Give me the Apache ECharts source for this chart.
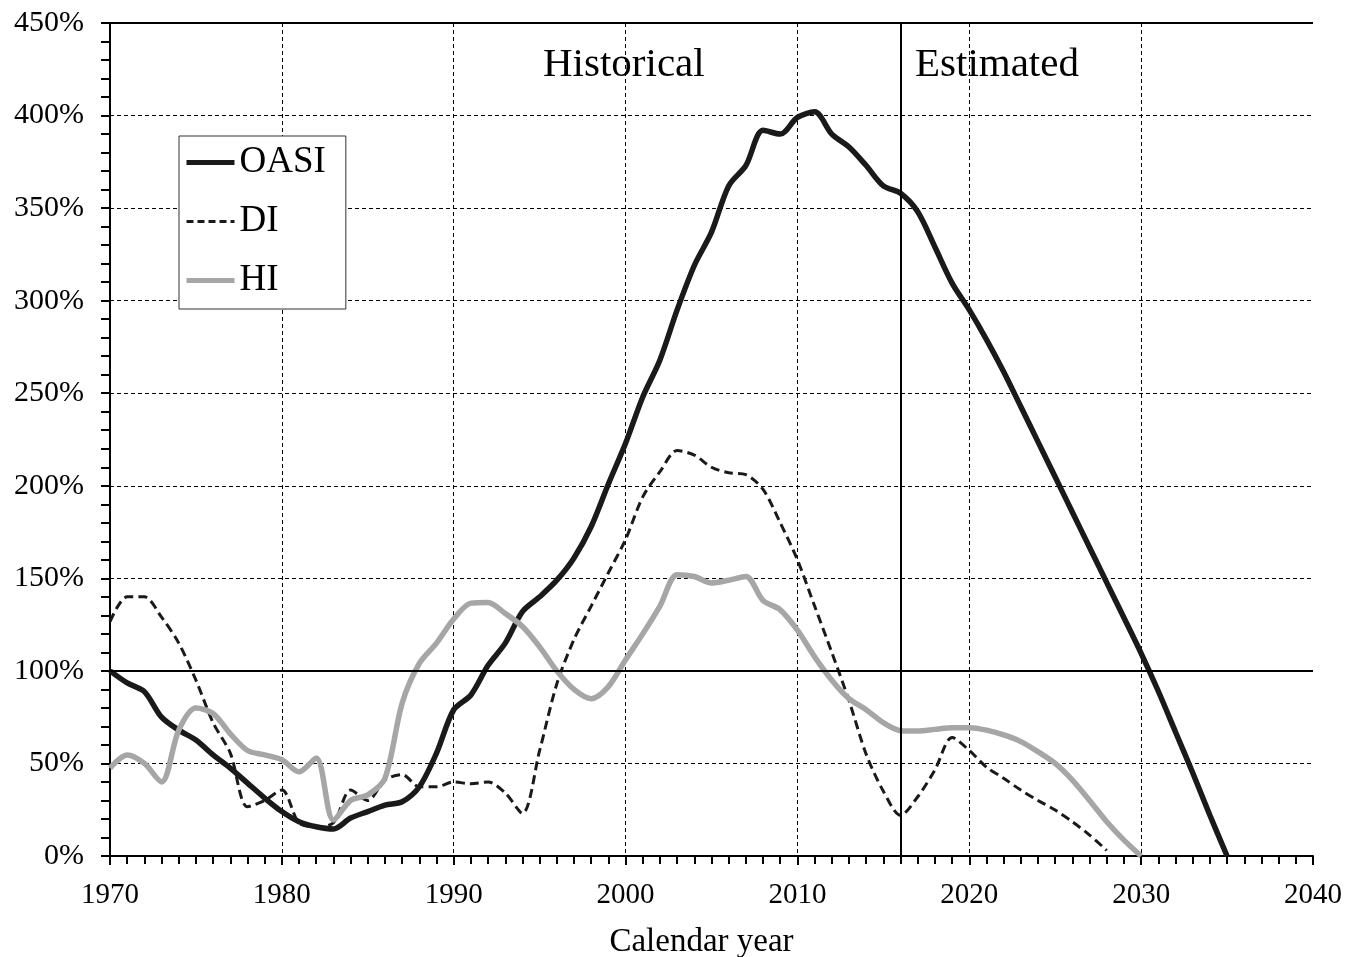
<!DOCTYPE html>
<html>
<head>
<meta charset="utf-8">
<script src="https://cdn.jsdelivr.net/npm/echarts@6/dist/echarts.min.js"></script>
<style>
html, body { margin: 0; padding: 0; background: #fff; }
#chart { width: 1361px; height: 957px; }
</style>
</head>
<body>
<div id="chart"></div>
<script>
// years 1970..2035
var years = [];
for (var y = 1970; y <= 2035; y++) years.push(y);

// trust fund ratios (%)
var oasi = [100, 93.5, 88.8, 75, 68, 62.7, 54.6, 47.5, 39.4, 31.3,
    24, 18.5, 15.8, 14.6, 20.5, 24, 27.5, 29.3, 37.4, 55.6,
    79, 87, 103, 115, 132, 140, 149, 161, 178, 201,
    223, 248, 268, 295, 319, 337, 362, 373, 392, 390,
    399, 402, 390, 383, 373, 362, 358, 348, 329, 309.5,
    295, 279, 261.6, 242.7, 223.7, 204.7, 185.7, 166.7, 147.7, 128.7,
    109.5, 89, 67, 45, 22, 0];
var di = [126.6, 140, 140, 129, 115, 95, 72, 55.6, 26.6, 30,
    35.6, 17.8, 15.8, 18, 35.6, 30, 41, 44, 37.4, 37.4,
    40, 39, 40, 34, 23, 57, 93, 117, 135, 153,
    171, 194, 207.6, 219, 216.6, 210, 207, 206, 198, 180,
    160, 135, 110, 84, 55, 35, 22, 32, 46.5, 64,
    57, 48, 42, 35.6, 30, 24.8, 18.5, 11.3, 3];
var hi = [47.5, 54.6, 50, 40, 68, 80, 77, 66, 57, 54.6,
    52, 45.5, 53, 19.4, 30, 33, 42, 82.6, 104, 115,
    128, 136.6, 137, 131, 124, 113, 100, 90, 85, 91.5,
    106, 120, 135, 152, 151, 147.5, 149, 151, 138, 133,
    122, 107.6, 95, 85, 79, 72, 67.7, 67.5, 68.4, 69.3,
    69.3, 68, 65.4, 61.8, 56.3, 50, 41, 30, 18.5, 8.6, 0];

// reference lines
var refY = [100, 450];
var refX = [2016];

function pairs(vals) {
    var out = [];
    for (var i = 0; i < vals.length; i++) out.push([years[i], vals[i]]);
    return out;
}

var font = 'Liberation Serif';
var chart = echarts.init(document.getElementById('chart'));

var refLines = [];
refY.forEach(function (v) { refLines.push({ yAxis: v }); });
refX.forEach(function (v) { refLines.push({ xAxis: v }); });

option = {
    animation: false,
    backgroundColor: '#fff',
    grid: { left: 110, right: 48, top: 23, bottom: 101, outerBoundsMode: 'none' },
    legend: {
        orient: 'vertical',
        left: 179,
        top: 136,
        padding: [8, 20, 10, 5],
        itemGap: 22,
        itemWidth: 48,
        itemHeight: 14,
        itemTextGap: 4,
        borderColor: '#333',
        borderWidth: 1,
        backgroundColor: '#fff',
        itemStyle: { opacity: 0 },
        textStyle: { fontFamily: font, fontSize: 37, color: '#000' },
        data: [
            { name: 'OASI', lineStyle: { width: 5, color: '#1a1a1a' } },
            { name: 'DI', lineStyle: { width: 3, color: '#1a1a1a', type: [7, 4] } },
            { name: 'HI', lineStyle: { width: 5, color: '#a6a6a6' } }
        ]
    },
    xAxis: {
        type: 'value',
        min: 1970,
        max: 2040,
        interval: 10,
        name: 'Calendar year',
        nameLocation: 'middle',
        nameGap: 70,
        nameTextStyle: { fontFamily: font, fontSize: 33, color: '#000', padding: [0, 20, 0, 0] },
        axisLine: { lineStyle: { color: '#000', width: 2 } },
        axisTick: { length: 9, lineStyle: { color: '#000', width: 2 } },
        minorTick: { show: true, splitNumber: 10, length: 8, lineStyle: { color: '#000', width: 2 } },
        axisLabel: { fontFamily: font, fontSize: 29, color: '#000', margin: 25, formatter: function (v) { return String(v); } },
        splitLine: { show: true, showMaxLine: false, lineStyle: { color: '#000', width: 1, type: [4, 3] } }
    },
    yAxis: {
        type: 'value',
        min: 0,
        max: 450,
        interval: 50,
        axisLine: { show: true, lineStyle: { color: '#000', width: 2 } },
        axisTick: { show: true, length: 9, lineStyle: { color: '#000', width: 2 } },
        minorTick: { show: true, splitNumber: 5, length: 9, lineStyle: { color: '#000', width: 2 } },
        axisLabel: { fontFamily: font, fontSize: 30, color: '#000', margin: 26, formatter: '{value}%' },
        splitLine: { show: true, lineStyle: { color: '#000', width: 1, type: [4, 3] } }
    },
    graphic: [
        { type: 'text', left: 543, top: 45, style: { text: 'Historical', font: '41px "Liberation Serif"', fill: '#000' } },
        { type: 'text', left: 915, top: 45, style: { text: 'Estimated', font: '41px "Liberation Serif"', fill: '#000' } }
    ],
    series: [
        {
            name: 'OASI',
            type: 'line',
            data: pairs(oasi),
            smooth: 0.3,
            symbol: 'none',
            lineStyle: { color: '#1a1a1a', width: 5.5 },
            itemStyle: { color: '#1a1a1a' },
            markLine: {
                silent: true,
                symbol: 'none',
                label: { show: false },
                lineStyle: { color: '#000', width: 2, type: 'solid' },
                data: refLines
            }
        },
        {
            name: 'DI',
            type: 'line',
            data: pairs(di),
            smooth: 0.3,
            symbol: 'none',
            lineStyle: { color: '#1a1a1a', width: 3, type: [9, 5] },
            itemStyle: { color: '#1a1a1a' }
        },
        {
            name: 'HI',
            type: 'line',
            data: pairs(hi),
            smooth: 0.3,
            symbol: 'none',
            lineStyle: { color: '#a6a6a6', width: 5.5 },
            itemStyle: { color: '#a6a6a6' }
        }
    ]
};
chart.setOption(option);
</script>
</body>
</html>
